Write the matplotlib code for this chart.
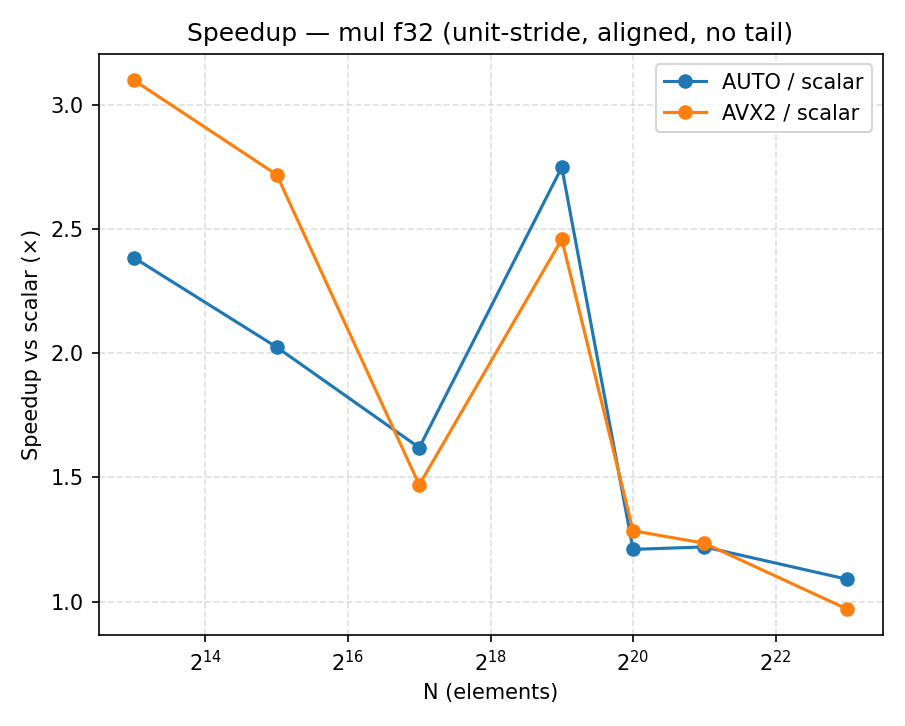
import matplotlib

matplotlib.use("Agg")
import matplotlib.pyplot as plt

SIZES = [2**13, 2**15, 2**17, 2**19, 2**20, 2**21, 2**23]
AUTO_SPEEDUP = [2.385, 2.025, 1.62, 2.75, 1.21, 1.22, 1.09]
AVX2_SPEEDUP = [3.10, 2.72, 1.47, 2.46, 1.285, 1.235, 0.97]


def main() -> None:
    fig, ax = plt.subplots(figsize=(905 / 150, 726 / 150), dpi=150)
    ax.plot(SIZES, AUTO_SPEEDUP, marker="o", label="AUTO / scalar")
    ax.plot(SIZES, AVX2_SPEEDUP, marker="o", label="AVX2 / scalar")
    ax.set_xscale("log", base=2)
    ax.set_xlabel("N (elements)")
    ax.set_ylabel("Speedup vs scalar (×)")
    ax.set_title("Speedup — mul f32 (unit-stride, aligned, no tail)")
    ax.grid(True, linestyle="--", alpha=0.4)
    ax.legend()
    fig.tight_layout()
    fig.savefig("out.png", dpi=150)
    plt.close(fig)


if __name__ == "__main__":
    main()
